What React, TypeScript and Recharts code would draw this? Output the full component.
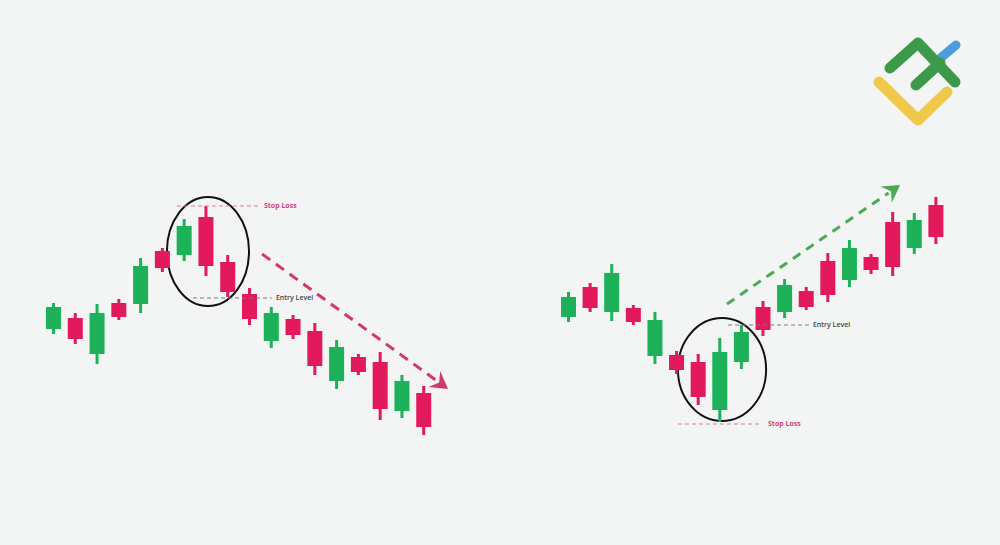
import { Bar, ComposedChart, ReferenceArea, ReferenceLine, XAxis, YAxis } from 'recharts';

// left panel: bearish reversal after an uptrend
const leftOpen = [216, 227, 191, 242, 241, 294, 290, 328, 283, 251, 204, 226, 214, 164, 188, 183, 134, 152];
const leftClose = [238, 206, 232, 228, 279, 277, 319, 279, 253, 226, 232, 210, 179, 198, 173, 136, 164, 118];
const leftHigh = [242, 232, 241, 246, 287, 297, 326, 339, 290, 257, 238, 230, 222, 205, 191, 193, 170, 159];
const leftLow = [211, 201, 181, 225, 232, 273, 284, 269, 248, 220, 197, 206, 170, 156, 170, 125, 127, 110];

// right panel: bullish reversal after a downtrend
const rightOpen = [228, 258, 233, 237, 189, 190, 183, 135, 183, 238, 233, 254, 284, 265, 288, 323, 297, 340];
const rightClose = [248, 237, 272, 223, 225, 175, 148, 193, 213, 215, 260, 238, 250, 297, 275, 278, 325, 308];
const rightHigh = [253, 262, 281, 240, 233, 194, 191, 207, 220, 244, 266, 258, 292, 305, 291, 333, 332, 348];
const rightLow = [223, 233, 224, 220, 181, 171, 140, 123, 176, 209, 227, 235, 243, 258, 271, 269, 291, 301];

const GREEN = '#1db25a';
const RED = '#e2195b';
const PINK = '#d8417a';
const BG = '#f3f4f4';

type Candle = { i: number; open: number; close: number; high: number; low: number };

const buildCandles = (open: number[], close: number[], high: number[], low: number[]): Candle[] =>
  open.map((o, i) => ({ i, open: o, close: close[i], high: high[i], low: low[i] }));

function CandleShape(props: any) {
  const { x, y, width, height, payload } = props;
  const top = Math.min(y, y + height);
  const span = Math.abs(height);
  const { open, close, high, low } = payload as Candle;
  const toPx = (v: number) => top + ((high - v) / (high - low)) * span;
  const bodyTop = toPx(Math.max(open, close));
  const bodyBottom = toPx(Math.min(open, close));
  const color = close >= open ? GREEN : RED;
  const cx = x + width / 2;
  return (
    <g>
      <rect x={cx - 1.5} y={top} width={3} height={span} fill={color} />
      <rect x={x} y={bodyTop} width={width} height={bodyBottom - bodyTop} fill={color} />
    </g>
  );
}

const ellipseShape = (p: any) => (
  <ellipse
    cx={p.x + p.width / 2}
    cy={p.y + p.height / 2}
    rx={p.width / 2}
    ry={p.height / 2}
    fill="none"
    stroke="#111"
    strokeWidth={2}
  />
);

const arrowShape = (color: string, dash: string) => (p: any) => {
  const { x1, y1, x2, y2 } = p;
  const dx = x2 - x1;
  const dy = y2 - y1;
  const len = Math.hypot(dx, dy);
  const ux = dx / len;
  const uy = dy / len;
  const nx = -uy;
  const ny = ux;
  const head = 17;
  const half = 10;
  const notch = 11;
  const bx = x2 - ux * head;
  const by = y2 - uy * head;
  const pts = [
    [x2, y2],
    [bx + nx * half, by + ny * half],
    [x2 - ux * notch, y2 - uy * notch],
    [bx - nx * half, by - ny * half],
  ]
    .map((q) => q.join(','))
    .join(' ');
  return (
    <g>
      <line
        x1={x1}
        y1={y1}
        x2={x2 - ux * (notch + 3)}
        y2={y2 - uy * (notch + 3)}
        stroke={color}
        strokeWidth={3}
        strokeDasharray={dash}
      />
      <polygon points={pts} fill={color} />
    </g>
  );
};

const labelStyle = { fontSize: 7, fontFamily: 'Open Sans, sans-serif' };

type PanelProps = {
  data: Candle[];
  width: number;
  left: number;
  right: number;
  children?: React.ReactNode;
};

function Panel({ data, width, left, right, children }: PanelProps) {
  return (
    <ComposedChart width={width} height={545} data={data} margin={{ top: 0, right, bottom: 0, left }}>
      <XAxis type="number" dataKey="i" domain={[-0.5, 17.5]} hide />
      <YAxis type="number" domain={[0, 545]} hide />
      <Bar
        dataKey={(d: Candle) => [d.low, d.high]}
        barSize={15}
        shape={CandleShape}
        isAnimationActive={false}
      />
      {children}
    </ComposedChart>
  );
}

function Logo() {
  return (
    <svg width={110} height={110} style={{ position: 'absolute', left: 860, top: 30 }}>
      <polyline
        points="19,52 58,90 87,62"
        fill="none"
        stroke="#f1c94a"
        strokeWidth={11}
        strokeLinecap="round"
        strokeLinejoin="round"
      />
      <line x1={77} y1={31} x2={96} y2={15} stroke="#4a9ddf" strokeWidth={9} strokeLinecap="round" />
      <polyline
        points="30,38 58,13 95,52"
        fill="none"
        stroke="#3e9a4b"
        strokeWidth={11}
        strokeLinecap="round"
        strokeLinejoin="round"
      />
      <line x1={56} y1={55} x2={80} y2={33} stroke="#3e9a4b" strokeWidth={11} strokeLinecap="round" />
    </svg>
  );
}

export default function App() {
  const leftData = buildCandles(leftOpen, leftClose, leftHigh, leftLow);
  const rightData = buildCandles(rightOpen, rightClose, rightHigh, rightLow);

  return (
    <div style={{ position: 'fixed', left: 0, top: 0, width: 1000, height: 545, background: BG, overflow: 'hidden' }}>
      <div style={{ position: 'absolute', left: 0, top: 0 }}>
        <Panel data={leftData} width={480} left={43} right={45}>
          <ReferenceArea x1={5.19} x2={8.96} y1={239} y2={348} shape={ellipseShape} ifOverflow="visible" />
          <ReferenceLine
            segment={[{ x: 5.65, y: 339 }, { x: 9.37, y: 339 }]}
            stroke="#e07a9f"
            strokeDasharray="4 3"
            ifOverflow="visible"
            label={{ value: 'Stop Loss', position: 'right', offset: 6, fill: PINK, fontWeight: 700, ...labelStyle }}
          />
          <ReferenceLine
            segment={[{ x: 6.39, y: 247 }, { x: 10.01, y: 247 }]}
            stroke="#7a7a7a"
            strokeDasharray="4 3"
            ifOverflow="visible"
            label={{ value: 'Entry Level', position: 'right', offset: 4, fill: '#444', fontWeight: 600, ...labelStyle }}
          />
          <ReferenceLine
            segment={[{ x: 9.56, y: 291 }, { x: 18.1, y: 156 }]}
            ifOverflow="visible"
            shape={arrowShape('#d2396a', '10 7')}
          />
        </Panel>
      </div>
      <div style={{ position: 'absolute', left: 480, top: 0 }}>
        <Panel data={rightData} width={520} left={78} right={53}>
          <ReferenceArea x1={5.05} x2={9.13} y1={124} y2={227} shape={ellipseShape} ifOverflow="visible" />
          <ReferenceLine
            segment={[{ x: 5.05, y: 121 }, { x: 8.94, y: 121 }]}
            stroke="#e07a9f"
            strokeDasharray="4 3"
            ifOverflow="visible"
            label={{ value: 'Stop Loss', position: 'right', offset: 6, fill: PINK, fontWeight: 700, ...labelStyle }}
          />
          <ReferenceLine
            segment={[{ x: 7.37, y: 220 }, { x: 11.11, y: 220 }]}
            stroke="#7a7a7a"
            strokeDasharray="4 3"
            ifOverflow="visible"
            label={{ value: 'Entry Level', position: 'right', offset: 4, fill: '#444', fontWeight: 600, ...labelStyle }}
          />
          <ReferenceLine
            segment={[{ x: 7.32, y: 241 }, { x: 15.33, y: 360 }]}
            ifOverflow="visible"
            shape={arrowShape('#4caa54', '9 7')}
          />
        </Panel>
      </div>
      <Logo />
    </div>
  );
}
